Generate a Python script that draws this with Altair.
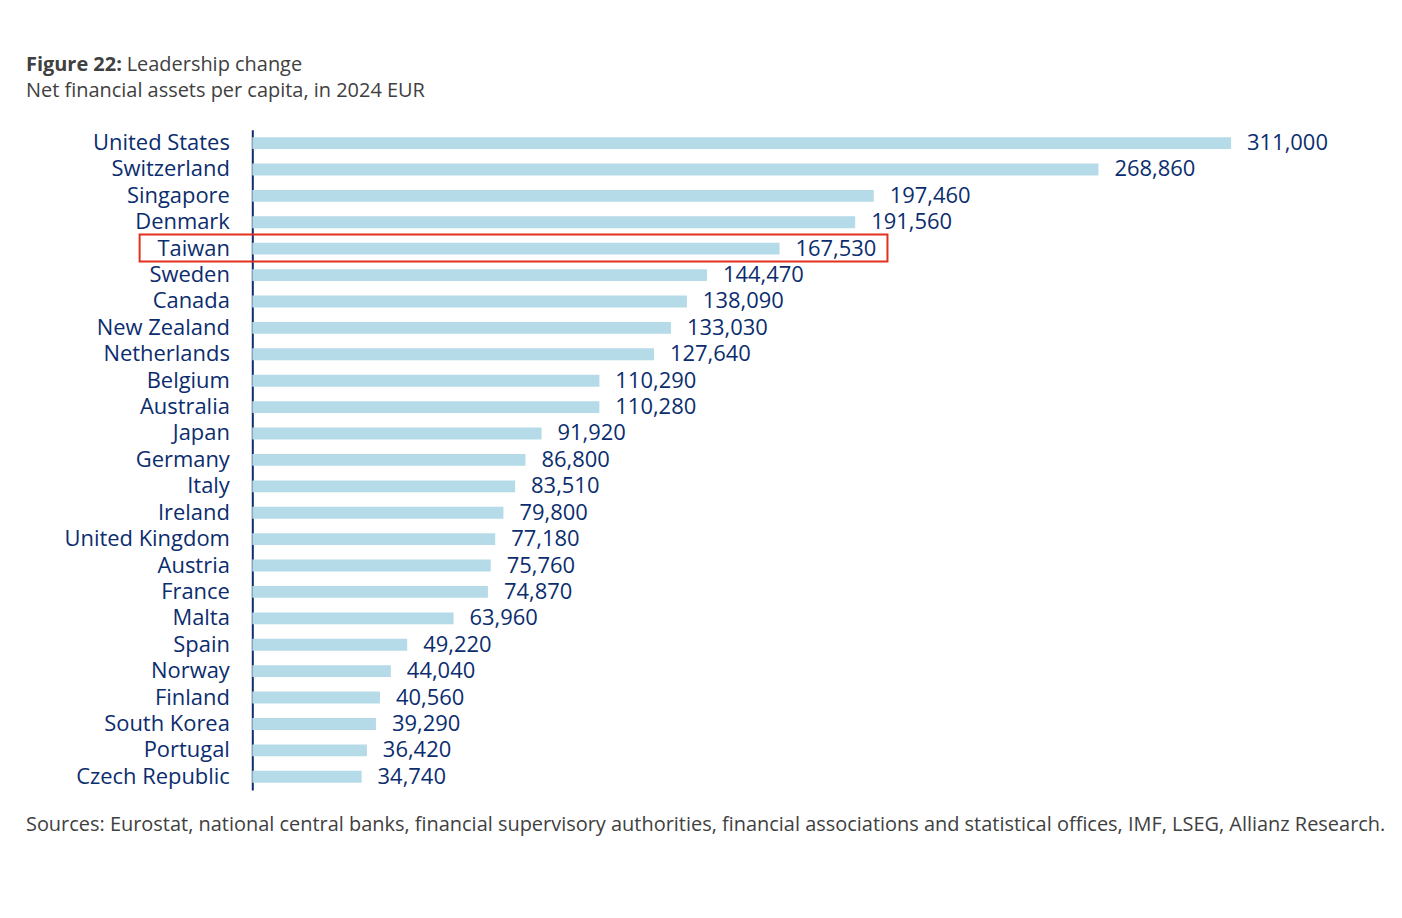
import altair as alt
import pandas as pd

countries = ["United States", "Switzerland", "Singapore", "Denmark", "Taiwan", "Sweden",
             "Canada", "New Zealand", "Netherlands", "Belgium", "Australia", "Japan",
             "Germany", "Italy", "Ireland", "United Kingdom", "Austria", "France", "Malta",
             "Spain", "Norway", "Finland", "South Korea", "Portugal", "Czech Republic"]
values = [311000, 268860, 197460, 191560, 167530, 144470, 138090, 133030, 127640, 110290,
          110280, 91920, 86800, 83510, 79800, 77180, 75760, 74870, 63960, 49220, 44040,
          40560, 39290, 36420, 34740]

title_bold = "Figure 22:"
title_rest = "Leadership change"
subtitle = "Net financial assets per capita, in 2024 EUR"
source = ("Sources: Eurostat, national central banks, financial supervisory authorities, "
          "financial associations and statistical offices, IMF, LSEG, Allianz Research.")

df = pd.DataFrame({"country": countries, "value": values})

FONT = "Open Sans"
NAVY = "#0b2d6e"
GREY = "#404040"
BAR = "#b5dbe8"

y_enc = alt.Y("country:N", sort=countries,
              scale=alt.Scale(paddingInner=0.55, paddingOuter=0.275),
              axis=alt.Axis(title=None, ticks=False, domainColor=NAVY, domainWidth=2,
                            labelFontSize=22, labelColor=NAVY, labelFont=FONT,
                            labelPadding=23))
x_enc = alt.X("value:Q", scale=alt.Scale(domain=[0, 339000], nice=False), axis=None)

base = alt.Chart(df)
bars = base.mark_bar(color=BAR).encode(y=y_enc, x=x_enc)
labels = base.mark_text(align="left", baseline="middle", dx=16, fontSize=22,
                        font=FONT, color=NAVY).encode(
    y=alt.Y("country:N", sort=countries), x="value:Q",
    text=alt.Text("value:Q", format=","))

one = pd.DataFrame({"k": [0]})
t1 = alt.Chart(one).mark_text(align="left", baseline="alphabetic", fontSize=20,
                              fontWeight="bold", font=FONT, color=GREY).encode(
    x=alt.value(-227), y=alt.value(-59), text=alt.value(title_bold))
t2 = alt.Chart(one).mark_text(align="left", baseline="alphabetic", fontSize=20,
                              font=FONT, color=GREY).encode(
    x=alt.value(-126), y=alt.value(-59), text=alt.value(title_rest))
t3 = alt.Chart(one).mark_text(align="left", baseline="alphabetic", fontSize=20,
                              font=FONT, color=GREY).encode(
    x=alt.value(-227), y=alt.value(-33), text=alt.value(subtitle))
t4 = alt.Chart(one).mark_text(align="left", baseline="alphabetic", fontSize=20,
                              font=FONT, color=GREY).encode(
    x=alt.value(-227), y=alt.value(703), text=alt.value(source))
box = alt.Chart(one).mark_rect(filled=False, stroke="#e2311d", strokeWidth=2).encode(
    x=alt.value(-113), x2=alt.value(637), y=alt.value(105), y2=alt.value(132))

chart = alt.layer(bars, labels, box, t1, t2, t3, t4).properties(
    width=1070, height=662,
    autosize=alt.AutoSizeParams(type="none"),
    padding={"left": 245, "top": 121, "right": 75, "bottom": 60},
    background="white",
).configure_view(stroke=None)

chart.save("out.html", embed_options={"renderer": "svg", "actions": False})
